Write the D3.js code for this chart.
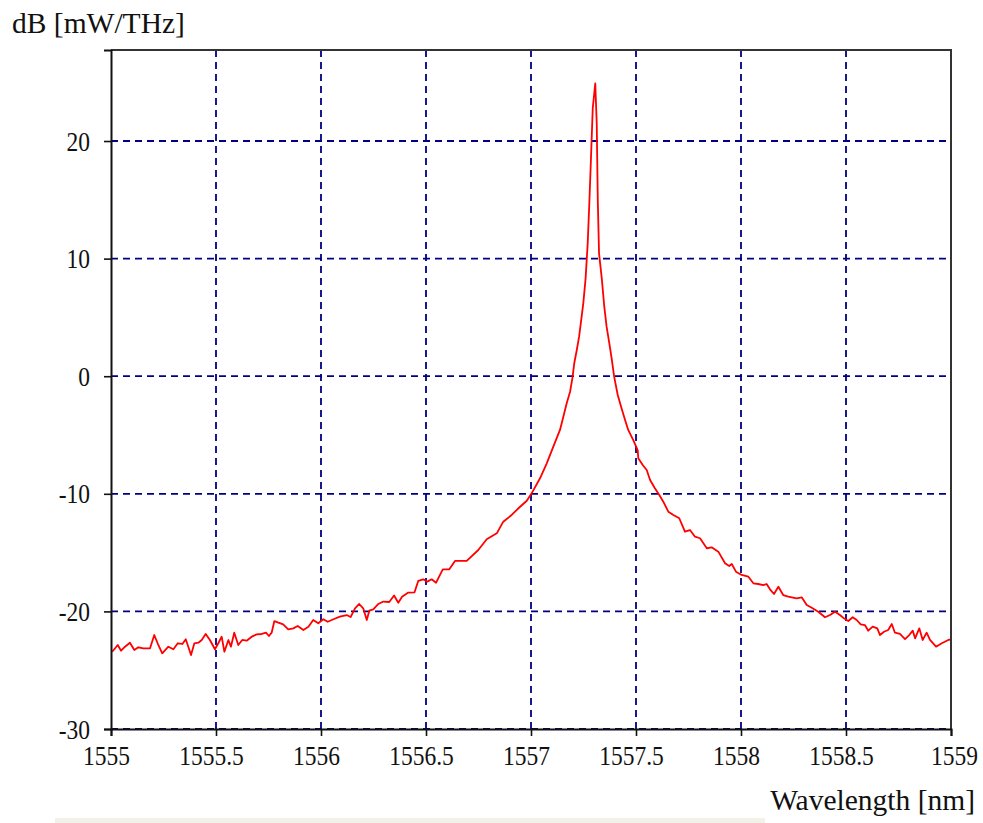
<!DOCTYPE html>
<html>
<head>
<meta charset="utf-8">
<script src="https://cdn.jsdelivr.net/npm/d3@7"></script>
<style>
  html, body { margin: 0; padding: 0; background: #fff; }
  svg { display: block; }
</style>
</head>
<body>
<div id="chart"></div>
<script>
// spectrum: wavelength in nm, power density in dB [mW/THz]
const wavelengthNm = [
  1555.006, 1555.032, 1555.048, 1555.067, 1555.090, 1555.111, 1555.130, 1555.154, 1555.186, 1555.206,
  1555.222, 1555.244, 1555.273, 1555.297, 1555.318, 1555.340, 1555.356, 1555.368, 1555.381, 1555.397,
  1555.416, 1555.432, 1555.451, 1555.471, 1555.495, 1555.511, 1555.527, 1555.540, 1555.559, 1555.571,
  1555.587, 1555.606, 1555.625, 1555.646, 1555.670, 1555.694, 1555.718, 1555.738, 1555.752, 1555.765,
  1555.778, 1555.797, 1555.820, 1555.844, 1555.868, 1555.889, 1555.916, 1555.940, 1555.963, 1555.987,
  1556.011, 1556.032, 1556.059, 1556.090, 1556.122, 1556.141, 1556.162, 1556.182, 1556.201, 1556.218,
  1556.230, 1556.249, 1556.273, 1556.297, 1556.325, 1556.348, 1556.368, 1556.386, 1556.414, 1556.445,
  1556.463, 1556.487, 1556.506, 1556.527, 1556.548, 1556.580, 1556.611, 1556.638, 1556.694, 1556.749,
  1556.789, 1556.837, 1556.868, 1556.908, 1556.948, 1556.980, 1557.003, 1557.043, 1557.075, 1557.103,
  1557.138, 1557.154, 1557.170, 1557.186, 1557.197, 1557.206, 1557.218, 1557.229, 1557.238, 1557.249,
  1557.260, 1557.270, 1557.278, 1557.286, 1557.294, 1557.306, 1557.313, 1557.318, 1557.324, 1557.337,
  1557.349, 1557.360, 1557.373, 1557.384, 1557.396, 1557.413, 1557.429, 1557.448, 1557.463, 1557.487,
  1557.508, 1557.511, 1557.532, 1557.551, 1557.567, 1557.590, 1557.611, 1557.630, 1557.654, 1557.678,
  1557.706, 1557.733, 1557.757, 1557.781, 1557.805, 1557.837, 1557.860, 1557.892, 1557.924, 1557.944,
  1557.956, 1557.976, 1558.003, 1558.035, 1558.059, 1558.082, 1558.106, 1558.122, 1558.138, 1558.157,
  1558.178, 1558.201, 1558.225, 1558.265, 1558.289, 1558.313, 1558.337, 1558.368, 1558.400, 1558.424,
  1558.448, 1558.471, 1558.490, 1558.511, 1558.532, 1558.551, 1558.570, 1558.590, 1558.606, 1558.627,
  1558.649, 1558.662, 1558.681, 1558.701, 1558.718, 1558.733, 1558.757, 1558.781, 1558.801, 1558.818,
  1558.829, 1558.849, 1558.865, 1558.884, 1558.900, 1558.929, 1558.956, 1558.987, 1559.000
];
const powerDb = [
  -23.43, -22.86, -23.34, -23.00, -22.66, -23.28, -23.05, -23.14, -23.14, -22.01,
  -22.71, -23.56, -23.00, -23.22, -22.71, -22.77, -22.37, -23.00, -23.71, -22.71,
  -22.66, -22.43, -21.92, -22.43, -23.22, -22.71, -22.15, -23.43, -22.43, -23.00,
  -21.81, -22.86, -22.43, -22.49, -22.15, -21.95, -21.92, -21.81, -22.09, -21.81,
  -20.82, -20.96, -21.10, -21.52, -21.44, -21.24, -21.58, -21.30, -20.73, -21.01,
  -20.67, -20.88, -20.67, -20.45, -20.31, -20.48, -19.74, -19.37, -19.74, -20.73,
  -19.94, -19.82, -19.37, -19.16, -19.20, -18.65, -19.26, -18.75, -18.41, -18.39,
  -17.41, -17.27, -17.47, -17.27, -17.56, -16.42, -16.42, -15.71, -15.71, -14.78,
  -13.87, -13.36, -12.37, -11.80, -11.10, -10.59, -9.96, -8.68, -7.41, -6.13,
  -4.57, -3.44, -2.30, -1.32, -0.18, 1.10, 2.23, 3.36, 4.63, 6.20,
  8.32, 11.30, 14.84, 18.72, 22.78, 24.91, 21.50, 14.98, 10.45, 8.32,
  5.91, 4.21, 2.80, 1.52, -0.04, -1.60, -2.59, -3.72, -4.57, -5.43,
  -6.28, -6.98, -7.55, -7.98, -8.83, -9.53, -10.10, -10.67, -11.52, -11.80,
  -12.08, -13.22, -13.08, -13.65, -13.78, -14.63, -14.55, -14.92, -15.91, -16.14,
  -15.97, -16.62, -16.90, -17.05, -17.61, -17.67, -17.76, -17.67, -18.12, -18.52,
  -17.90, -18.61, -18.75, -18.89, -18.80, -19.46, -19.69, -20.03, -20.50, -20.31,
  -20.03, -20.31, -20.59, -20.82, -20.50, -20.73, -21.10, -21.16, -21.64, -21.30,
  -21.44, -22.01, -21.73, -21.58, -21.07, -21.81, -21.92, -22.35, -22.01, -21.64,
  -22.29, -21.44, -22.43, -21.81, -22.43, -23.00, -22.71, -22.43, -22.39
];
const xTicks = [1555, 1555.5, 1556, 1556.5, 1557, 1557.5, 1558, 1558.5, 1559];
const yTicks = [-30, -20, -10, 0, 10, 20];
const xDomain = [1555, 1559];
const yDomain = [-30, 27.74];
const xLabel = "Wavelength [nm]";
const yLabel = "dB [mW/THz]";

const width = 983, height = 823;
const margin = { left: 111, right: 32, top: 50, bottom: 94 };
const gridColor = "#000082";
const font = "'Liberation Serif', 'Times New Roman', serif";

const xScale = d3.scaleLinear(xDomain, [margin.left, width - margin.right]);
const yScale = d3.scaleLinear(yDomain, [height - margin.bottom, margin.top]);

const svg = d3.select("#chart").append("svg")
    .attr("width", width)
    .attr("height", height)
    .attr("viewBox", `0 0 ${width} ${height}`)
    .style("font-family", font);

svg.append("rect").attr("width", width).attr("height", height).attr("fill", "#fff");

// faint strip along the bottom of the screenshot
svg.append("rect")
    .attr("x", 55).attr("y", 818).attr("width", 710).attr("height", 5)
    .attr("fill", "#f3f2e8");

// dashed grid
const grid = svg.append("g")
    .attr("stroke", gridColor)
    .attr("stroke-width", 1.8)
    .attr("stroke-dasharray", "7,5");

grid.selectAll("line.v")
    .data(xTicks.filter(d => d > xDomain[0] && d < xDomain[1]))
    .join("line")
    .attr("class", "v")
    .attr("x1", d => xScale(d)).attr("x2", d => xScale(d))
    .attr("y1", yScale(yDomain[1])).attr("y2", yScale(yDomain[0]));

grid.selectAll("line.h")
    .data(yTicks)
    .join("line")
    .attr("class", "h")
    .attr("y1", d => yScale(d)).attr("y2", d => yScale(d))
    .attr("x1", xScale(xDomain[0])).attr("x2", xScale(xDomain[1]));

// spectrum
const line = d3.line()
    .x(i => xScale(wavelengthNm[i]))
    .y(i => yScale(powerDb[i]));

svg.append("path")
    .attr("fill", "none")
    .attr("stroke", "#ff0000")
    .attr("stroke-width", 1.8)
    .attr("stroke-linejoin", "round")
    .attr("d", line(d3.range(wavelengthNm.length)));

// frame: top and right edges
svg.append("path")
    .attr("fill", "none")
    .attr("stroke", "#333")
    .attr("stroke-width", 2)
    .attr("d", `M${xScale(xDomain[0])},${yScale(yDomain[1])}H${xScale(xDomain[1])}V${yScale(yDomain[0])}`);

// axes
const xAxis = d3.axisBottom(xScale).tickValues(xTicks).tickSize(7).tickFormat(d => String(d));
const yAxis = d3.axisLeft(yScale).tickValues(yTicks).tickSize(7).tickPadding(14).tickFormat(d => String(d));

svg.append("g")
    .attr("transform", `translate(0,${yScale(yDomain[0])})`)
    .call(xAxis)
    .attr("font-family", null)
    .attr("font-size", null)
    .call(g => g.select(".domain").attr("stroke", "#111").attr("stroke-width", 2))
    .call(g => g.selectAll(".tick line").attr("stroke", "#111").attr("stroke-width", 1.6))
    .call(g => g.selectAll(".tick text")
        .attr("x", null).attr("y", null).attr("dy", null)
        .attr("fill", "#111")
        .attr("font-size", 23.5)
        .attr("text-anchor", "middle")
        .attr("transform", d => `translate(${d === xDomain[1] ? 3 : -5},36) scale(1,1.15)`));

svg.append("g")
    .attr("transform", `translate(${margin.left},0)`)
    .call(yAxis)
    .attr("font-family", null)
    .attr("font-size", null)
    .call(g => g.select(".domain").attr("stroke", "#111").attr("stroke-width", 2))
    .call(g => g.selectAll(".tick line").attr("stroke", "#111").attr("stroke-width", 1.6))
    .call(g => g.selectAll(".tick text")
        .attr("x", null).attr("dy", null)
        .attr("fill", "#111")
        .attr("font-size", 23.5)
        .attr("transform", "translate(-21,9) scale(1,1.15)"));

// axis titles
svg.append("text")
    .attr("x", 12).attr("y", 33)
    .attr("font-size", 29.5)
    .attr("fill", "#111")
    .text(yLabel);

svg.append("text")
    .attr("x", 975).attr("y", 810)
    .attr("font-size", 29.5)
    .attr("text-anchor", "end")
    .attr("fill", "#111")
    .text(xLabel);
</script>
</body>
</html>
